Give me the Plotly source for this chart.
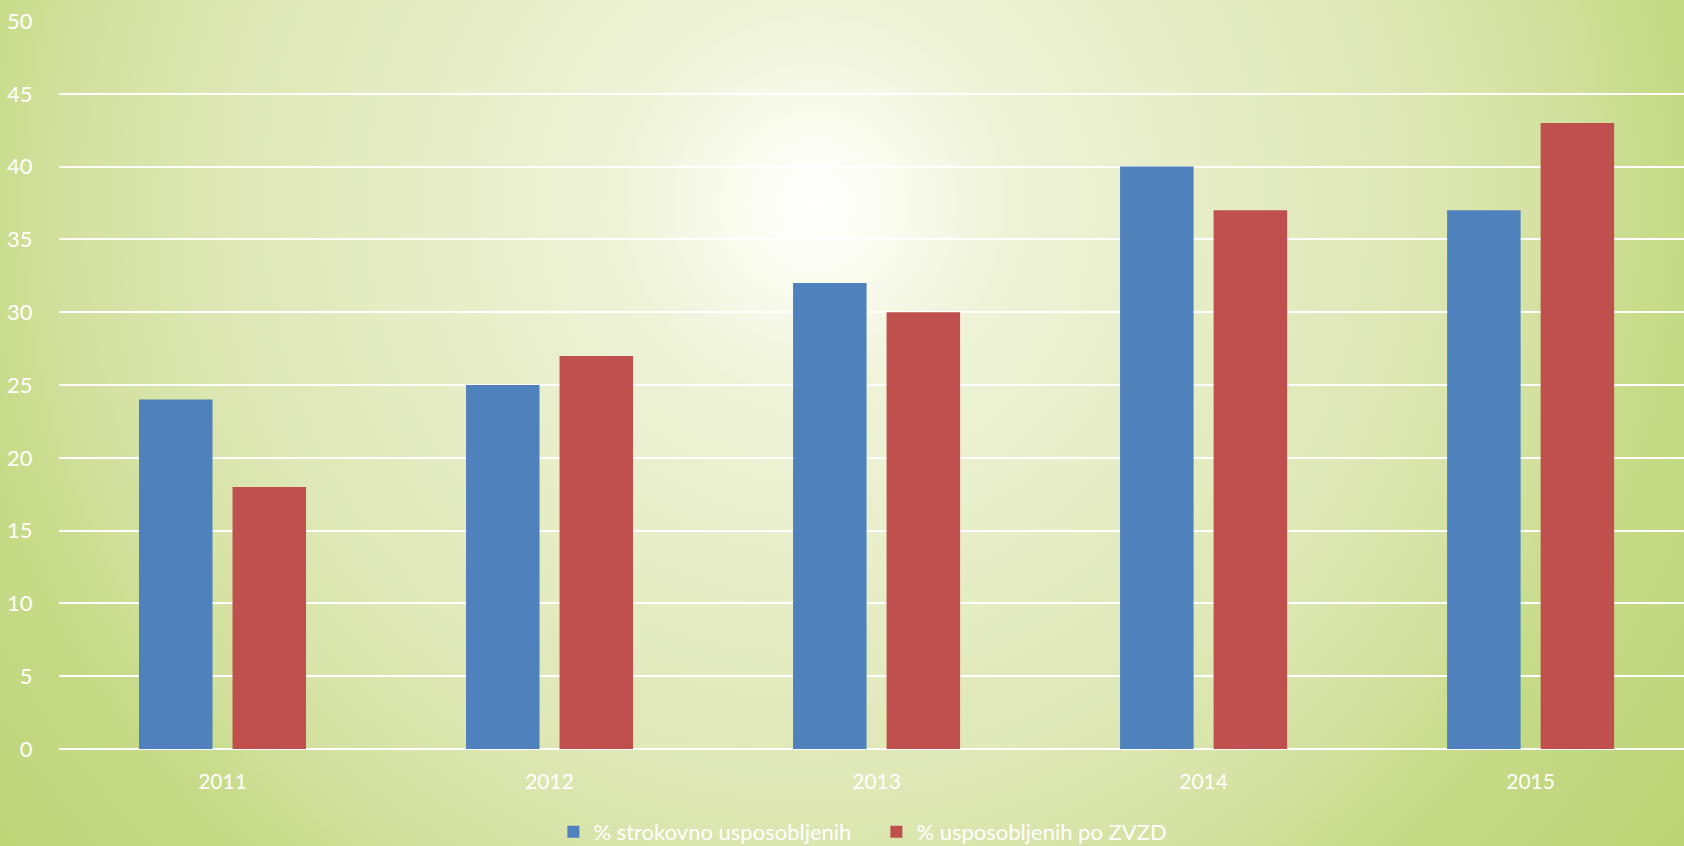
import base64
import plotly.graph_objects as go

years = ["2011", "2012", "2013", "2014", "2015"]
strokovno = [24, 25, 32, 40, 37]
zvzd = [18, 27, 30, 37, 43]
series_names = ["% strokovno usposobljenih", "% usposobljenih po ZVZD"]
series_colors = ["#4f81bd", "#c0504d"]
y_ticks = [0, 5, 10, 15, 20, 25, 30, 35, 40, 45, 50]

W, H = 1684, 846
ML, MR, MT, MB = 59, 0, 21, 97
PW, PH = W - ML - MR, H - MT - MB

svg = f'''<svg xmlns="http://www.w3.org/2000/svg" width="{W}" height="{H}" viewBox="0 0 {W} {H}" preserveAspectRatio="none">
<defs><radialGradient id="g" gradientUnits="userSpaceOnUse" cx="815" cy="205" r="1075">
<stop offset="0" stop-color="#ffffff"/>
<stop offset="0.07" stop-color="#fafcf0"/>
<stop offset="0.18" stop-color="#eef3d8"/>
<stop offset="0.56" stop-color="#dee7b4"/>
<stop offset="0.71" stop-color="#d1e09c"/>
<stop offset="0.785" stop-color="#c7db88"/>
<stop offset="1" stop-color="#bcd475"/>
</radialGradient></defs>
<rect x="0" y="0" width="{W}" height="{H}" fill="url(#g)"/>
</svg>'''
src = "data:image/svg+xml;base64," + base64.b64encode(svg.encode()).decode()

font = "Lato, 'Open Sans', sans-serif"

fig = go.Figure()
for name, vals, col in zip(series_names, [strokovno, zvzd], series_colors):
    fig.add_trace(go.Bar(x=years, y=vals, name=name, marker=dict(color=col, line=dict(width=0))))

fig.update_layout(
    width=W, height=H,
    margin=dict(l=ML, r=MR, t=MT, b=MB, autoexpand=False),
    paper_bgcolor="#c8dc8c",
    plot_bgcolor="rgba(0,0,0,0)",
    barmode="group",
    bargap=0.428,
    bargroupgap=0.214,
    font=dict(family=font, color="white", size=21),
    showlegend=True,
    legend=dict(orientation="h", x=0.503, xanchor="center", y=-0.114, yanchor="middle",
                font=dict(size=22, color="white"), bgcolor="rgba(0,0,0,0)",
                itemwidth=30, entrywidth=278, traceorder="normal"),
    images=[dict(source=src, xref="paper", yref="paper",
                 x=-ML / PW, y=1 + MT / PH, sizex=W / PW, sizey=H / PH,
                 xanchor="left", yanchor="top", sizing="stretch", layer="below")],
)
fig.update_yaxes(range=[0, 50], tickvals=y_ticks, showgrid=True, gridcolor="white", gridwidth=2,
                 zeroline=True, zerolinecolor="white", zerolinewidth=2,
                 ticks="outside", ticklen=21, tickcolor="rgba(0,0,0,0)",
                 tickfont=dict(size=22, color="white"), showline=False, fixedrange=True)
fig.update_xaxes(showgrid=False, showline=False, ticks="outside", ticklen=14, tickcolor="rgba(0,0,0,0)",
                 range=[-0.5, 4.469],
                 tickfont=dict(size=21, color="white"), fixedrange=True)

post = (
    "document.documentElement.style.margin='0';"
    "document.documentElement.style.padding='0';"
    "document.documentElement.style.overflow='hidden';"
    "document.body.style.margin='0';"
    "document.body.style.padding='0';"
    "document.body.style.overflow='hidden';"
    "var gd=document.getElementById('{plot_id}');"
    "gd.style.display='block';"
    "if(gd.parentElement){gd.parentElement.style.display='block';gd.parentElement.style.lineHeight='0';}"
)
fig.write_html("out.html", config={"displayModeBar": False, "staticPlot": True}, post_script=post)
